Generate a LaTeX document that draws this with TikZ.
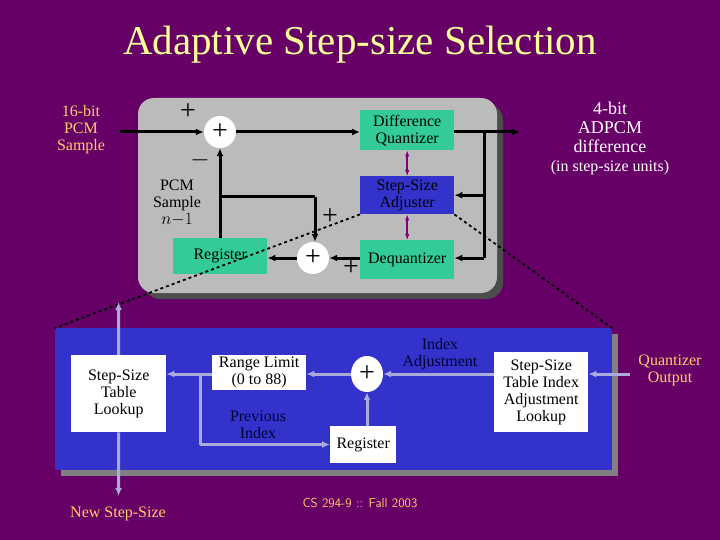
\documentclass[tikz,border=0pt]{standalone}
\usepackage{fontspec}
\setmainfont{Liberation Serif}
\newfontfamily\tms{Liberation Serif}
\usetikzlibrary{arrows.meta,shapes.geometric}
\definecolor{bgp}{HTML}{660066}
\definecolor{ttl}{HTML}{FFFF99}
\definecolor{ylw}{HTML}{FFCC66}
\definecolor{teal}{HTML}{33CC99}
\definecolor{blu}{HTML}{3333CC}
\definecolor{lav}{HTML}{AAAADD}
\definecolor{gry}{HTML}{BBBBBB}
\definecolor{navy}{HTML}{000033}
\tikzset{
 tbox/.style={fill=teal,inner sep=0pt,anchor=north west},
 wbox/.style={fill=white,inner sep=0pt,anchor=north west,align=center},
 sumc/.style={circle,fill=white,minimum size=32pt,inner sep=0pt,font=\tms\fontsize{28}{28}\selectfont},
 lbl/.style={font=\tms\fontsize{16}{17}\selectfont,align=center},
 blk/.style={line width=3pt,-{Latex[length=8pt,width=7pt]}},
 bl/.style={line width=3pt},
 lv/.style={lav,line width=3pt,-{Latex[length=8pt,width=7pt]}},
 lvl/.style={lav,line width=3pt},
 pp/.style={violet,line width=2.2pt,{Latex[length=6pt]}-{Latex[length=6pt]}},
 dsh/.style={dashed,line width=1.8pt},
 pm/.style={font=\tms\fontsize{28}{28}\selectfont}
}
\begin{document}
\begin{tikzpicture}[x=1pt,y=-1pt]
\fill[bgp] (0,0) rectangle (720,540);
\useasboundingbox (0,0) rectangle (720,540);
\node[ttl,font=\fontsize{41}{44}\selectfont] (title) at (360,45) {Adaptive Step-size Selection};
% top box
\fill[gray!60!black,rounded corners=16pt] (144,104) rectangle (503,299);
\fill[gry,rounded corners=16pt] (138,98) rectangle (497,293);
\node[lbl,ylw] (in) at (81,130) {16-bit\\PCM\\Sample};
\node[sumc] (s1) at (220,132) {+};
\node[pm] (p1) at (188,112) {+};
\node[pm] (m1) at (200,160) {$-$};
\node[tbox,minimum width=94pt,minimum height=40pt] (dq) at (360,110) {};
\node[lbl] (dqt) at (dq.center) {Difference\\Quantizer};
\node[fill=blu,inner sep=0pt,anchor=north west,minimum width=94pt,minimum height=38pt] (sa) at (360,176) {};
\node[lbl] (sat) at (sa.center) {Step-Size\\Adjuster};
\node[tbox,minimum width=94pt,minimum height=39pt] (de) at (360,240) {};
\node[lbl] (det) at (de.center) {Dequantizer};
\node[tbox,minimum width=94pt,minimum height=36pt] (rg) at (173,238) {};
\node[lbl] (rgt) at (rg.center) {Register};
\node[sumc] (s2) at (313,258) {+};
\node[pm] (p2) at (330,217) {+};
\node[pm] (p3) at (351,268) {+};
\node[lbl] (pn) at (177,203) {PCM\\Sample\\$n{-}1$};
\node[white,align=center,font=\tms\fontsize{18}{19}\selectfont] (out) at (610,138) {4-bit\\ADPCM\\difference\\{\fontsize{16}{17}\selectfont (in step-size units)}};
\coordinate (ie) at (120,132);
\coordinate (oe) at (520,132);
\coordinate (j1) at (484,132);
\coordinate (j2) at (484,258);
\coordinate (j3) at (220,197);
\coordinate (j4) at (315,197);
\draw[blk] (ie) -- (s1);
\draw[blk] (s1) -- (dq.west|-s1);
\draw[blk] (dq.east|-s1) -- (oe);
\draw[bl] (j1) -- (j2);
\draw[blk] (j1|-sa) -- (sa.east);
\draw[blk] (j2) -- (de.east|-j2);
\draw[blk] (rg.north-|s1) -- (s1.south);
\draw[bl] (j3) -- (j4);
\draw[blk] (j4) -- (s2.north-|j4);
\draw[blk] (de.west|-s2) -- (s2);
\draw[blk] (s2) -- (rg.east|-s2);
\draw[pp] (dq.south) -- (sa.north);
\draw[pp] (sa.south) -- (de.north);
% bottom box
\fill[gray] (61,334) rectangle (618,476);
\fill[blu] (55,328) rectangle (612,470);
\draw[dsh] (sa.south west) -- (55,328);
\draw[dsh] (sa.south east) -- (612,328);
\node[wbox,minimum width=95pt,minimum height=77pt] (tl) at (71,355) {};
\node[lbl] (tlt) at (tl.center) {Step-Size\\Table\\Lookup};
\node[wbox,minimum width=94pt,minimum height=35pt] (rl) at (212,355) {};
\node[lbl] (rlt) at (rl.center) {Range Limit\\(0 to 88)};
\node[ellipse,fill=white,minimum width=32pt,minimum height=36pt,inner sep=0pt,font=\tms\fontsize{28}{28}\selectfont] (s3) at (367,374) {+};
\node[lbl,navy] (ia) at (440,354) {Index\\Adjustment};
\node[wbox,minimum width=94pt,minimum height=80pt] (ta) at (494,352) {};
\node[lbl] (tat) at (ta.center) {Step-Size\\Table Index\\Adjustment\\Lookup};
\node[wbox,minimum width=66pt,minimum height=37pt] (r2) at (330,426) {};
\node[lbl] (r2t) at (r2.center) {Register};
\node[lbl,navy] (pi) at (258,425) {Previous\\Index};
\node[lbl,ylw] (qo) at (670,370) {Quantizer\\Output};
\node[lbl,ylw] (ns) at (118,514) {New Step-Size};
\node[ylw,font=\sffamily\fontsize{13}{13}\selectfont] (ft) at (360,503) {CS 294-9 :: Fall 2003};
\coordinate (qe) at (630,374);
\coordinate (up) at (118.5,302);
\coordinate (dn) at (118.5,496);
\coordinate (b1) at (200,374);
\coordinate (b2) at (200,444.5);
\draw[lv] (qe) -- (ta.east|-qe);
\draw[lv] (ta.west|-s3) -- (s3);
\draw[lv] (s3) -- (rl.east|-s3);
\draw[lv] (rl.west|-s3) -- (tl.east|-s3);
\draw[lvl] (b1) -- (b2);
\draw[lv] (b2) -- (r2.west|-b2);
\draw[lv] (r2.north-|s3) -- (s3.south);
\draw[lv] (tl.north) -- (up);
\draw[lv] (tl.south) -- (dn);
\end{tikzpicture}
\end{document}
